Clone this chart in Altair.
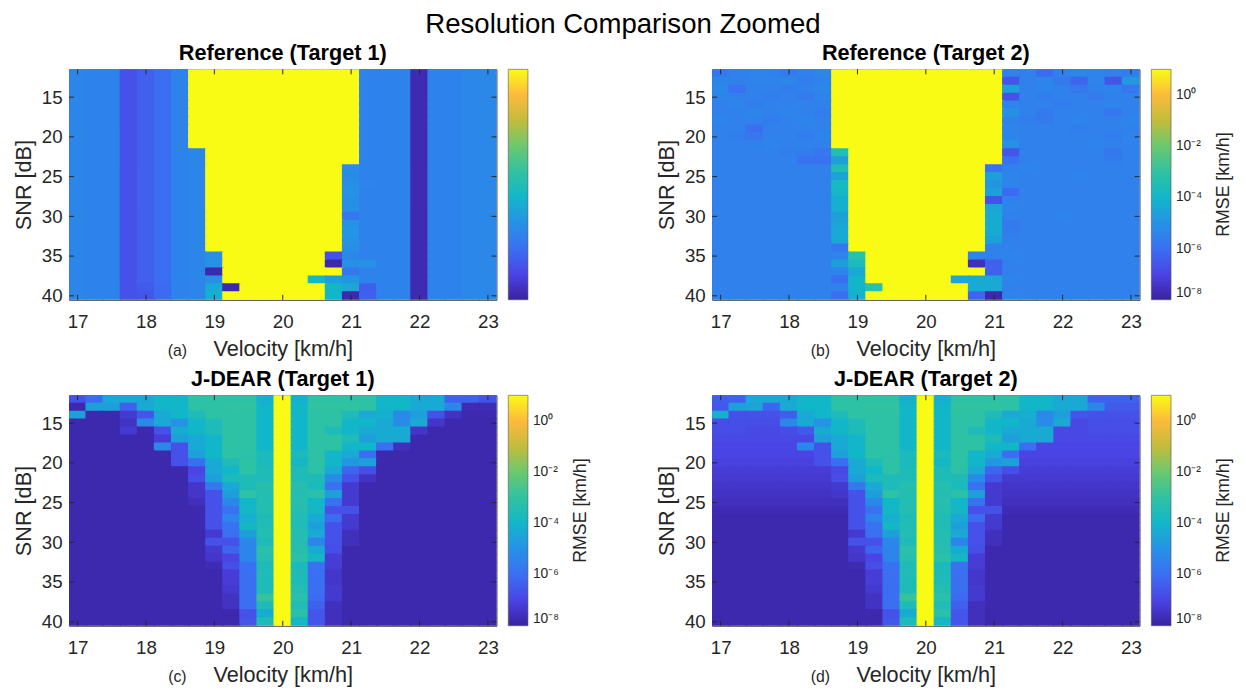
import altair as alt
import pandas as pd

# ---------------- data (log10 of RMSE [km/h]) ----------------
velocity = [17.0, 17.25, 17.5, 17.75, 18.0, 18.25, 18.5, 18.75, 19.0, 19.25, 19.5, 19.75,
            20.0, 20.25, 20.5, 20.75, 21.0, 21.25, 21.5, 21.75, 22.0, 22.25, 22.5, 22.75, 23.0]
snr = [12, 13, 14, 15, 16, 17, 18, 19, 20, 21, 22, 23, 24, 25, 26, 27, 28, 29, 30,
       31, 32, 33, 34, 35, 36, 37, 38, 39, 40]
x_ticks = [17, 18, 19, 20, 21, 22, 23]
y_ticks = [15, 20, 25, 30, 35, 40]
cbar_ticks = [-8, -6, -4, -2, 0]
cbar_labels = ["10⁻⁸", "10⁻⁶", "10⁻⁴", "10⁻²", "10⁰"]
cbar_title = "RMSE [km/h]"
panel_titles = ["Reference (Target 1)", "Reference (Target 2)", "J-DEAR (Target 1)", "J-DEAR (Target 2)"]
panel_tags = ["(a)", "(b)", "(c)", "(d)"]

ref_t1 = [
    [-5.35,-5.45,-5.45,-6.7,-6.35,-6.0,-5.45, 1.0,1.0,1.0,1.0,1.0, 1.0, 1.0,1.0,1.0,1.0,-5.45, -5.45,-5.45,-7.75,-5.45,-5.45,-5.3,-5.3],
    [-5.35,-5.45,-5.45,-6.7,-6.35,-6.0,-5.45, 1.0,1.0,1.0,1.0,1.0, 1.0, 1.0,1.0,1.0,1.0,-5.45, -5.45,-5.45,-7.75,-5.45,-5.45,-5.3,-5.3],
    [-5.35,-5.45,-5.45,-6.7,-6.35,-6.0,-5.45, 1.0,1.0,1.0,1.0,1.0, 1.0, 1.0,1.0,1.0,1.0,-5.45, -5.45,-5.45,-7.75,-5.45,-5.45,-5.3,-5.3],
    [-5.35,-5.45,-5.45,-6.7,-6.35,-6.0,-5.45, 1.0,1.0,1.0,1.0,1.0, 1.0, 1.0,1.0,1.0,1.0,-5.45, -5.45,-5.45,-7.75,-5.45,-5.45,-5.3,-5.3],
    [-5.35,-5.45,-5.45,-6.7,-6.35,-6.0,-5.45, 1.0,1.0,1.0,1.0,1.0, 1.0, 1.0,1.0,1.0,1.0,-5.45, -5.45,-5.45,-7.75,-5.45,-5.45,-5.3,-5.3],
    [-5.35,-5.45,-5.45,-6.7,-6.35,-6.0,-5.45, 1.0,1.0,1.0,1.0,1.0, 1.0, 1.0,1.0,1.0,1.0,-5.45, -5.45,-5.45,-7.75,-5.45,-5.45,-5.3,-5.3],
    [-5.35,-5.45,-5.45,-6.7,-6.35,-6.0,-5.45, 1.0,1.0,1.0,1.0,1.0, 1.0, 1.0,1.0,1.0,1.0,-5.45, -5.45,-5.45,-7.75,-5.45,-5.45,-5.3,-5.3],
    [-5.35,-5.45,-5.45,-6.7,-6.35,-6.0,-5.45, 1.0,1.0,1.0,1.0,1.0, 1.0, 1.0,1.0,1.0,1.0,-5.45, -5.45,-5.45,-7.75,-5.45,-5.45,-5.3,-5.3],
    [-5.35,-5.45,-5.45,-6.7,-6.35,-6.0,-5.45, 1.0,1.0,1.0,1.0,1.0, 1.0, 1.0,1.0,1.0,1.0,-5.45, -5.45,-5.45,-7.75,-5.45,-5.45,-5.3,-5.3],
    [-5.35,-5.45,-5.45,-6.7,-6.35,-6.0,-5.45, 1.0,1.0,1.0,1.0,1.0, 1.0, 1.0,1.0,1.0,1.0,-5.45, -5.45,-5.45,-7.75,-5.45,-5.45,-5.3,-5.3],
    [-5.35,-5.45,-5.45,-6.7,-6.35,-6.0,-5.45, -5.35,1.0,1.0,1.0,1.0, 1.0, 1.0,1.0,1.0,1.0,-5.45, -5.45,-5.45,-7.75,-5.45,-5.45,-5.3,-5.3],
    [-5.35,-5.45,-5.45,-6.7,-6.35,-6.0,-5.45, -5.35,1.0,1.0,1.0,1.0, 1.0, 1.0,1.0,1.0,1.0,-5.45, -5.45,-5.45,-7.75,-5.45,-5.45,-5.3,-5.3],
    [-5.35,-5.45,-5.45,-6.7,-6.35,-6.0,-5.45, -5.35,1.0,1.0,1.0,1.0, 1.0, 1.0,1.0,1.0,-5.15,-5.45, -5.45,-5.45,-7.75,-5.45,-5.45,-5.3,-5.3],
    [-5.35,-5.45,-5.45,-6.7,-6.35,-6.0,-5.45, -5.35,1.0,1.0,1.0,1.0, 1.0, 1.0,1.0,1.0,-5.2,-5.45, -5.45,-5.45,-7.75,-5.45,-5.45,-5.3,-5.3],
    [-5.35,-5.45,-5.45,-6.7,-6.35,-6.0,-5.45, -5.35,1.0,1.0,1.0,1.0, 1.0, 1.0,1.0,1.0,-5.1,-5.4, -5.45,-5.45,-7.75,-5.45,-5.45,-5.3,-5.3],
    [-5.35,-5.45,-5.45,-6.7,-6.35,-6.0,-5.45, -5.35,1.0,1.0,1.0,1.0, 1.0, 1.0,1.0,1.0,-5.0,-5.45, -5.45,-5.45,-7.75,-5.45,-5.45,-5.3,-5.3],
    [-5.35,-5.45,-5.45,-6.7,-6.35,-6.0,-5.45, -5.35,1.0,1.0,1.0,1.0, 1.0, 1.0,1.0,1.0,-5.05,-5.45, -5.45,-5.45,-7.75,-5.45,-5.45,-5.3,-5.3],
    [-5.35,-5.45,-5.45,-6.7,-6.35,-6.0,-5.45, -5.35,1.0,1.0,1.0,1.0, 1.0, 1.0,1.0,1.0,-5.1,-5.45, -5.45,-5.45,-7.75,-5.45,-5.45,-5.3,-5.3],
    [-5.35,-5.45,-5.45,-6.7,-6.35,-6.0,-5.45, -5.35,1.0,1.0,1.0,1.0, 1.0, 1.0,1.0,1.0,-5.8,-5.45, -5.45,-5.45,-7.75,-5.45,-5.45,-5.3,-5.3],
    [-5.35,-5.45,-5.45,-6.7,-6.35,-6.0,-5.45, -5.35,1.0,1.0,1.0,1.0, 1.0, 1.0,1.0,1.0,-5.0,-5.45, -5.45,-5.45,-7.75,-5.45,-5.45,-5.3,-5.3],
    [-5.35,-5.45,-5.45,-6.7,-6.35,-6.0,-5.45, -5.35,1.0,1.0,1.0,1.0, 1.0, 1.0,1.0,1.0,-4.95,-5.45, -5.45,-5.45,-7.75,-5.45,-5.45,-5.3,-5.3],
    [-5.35,-5.45,-5.45,-6.7,-6.35,-6.0,-5.45, -5.35,1.0,1.0,1.0,1.0, 1.0, 1.0,1.0,1.0,-5.0,-5.45, -5.45,-5.45,-7.75,-5.45,-5.45,-5.3,-5.3],
    [-5.35,-5.45,-5.45,-6.7,-6.35,-6.0,-5.45, -5.35,1.0,1.0,1.0,1.0, 1.0, 1.0,1.0,1.0,-5.1,-5.45, -5.45,-5.45,-7.75,-5.45,-5.45,-5.3,-5.3],
    [-5.35,-5.45,-5.45,-6.7,-6.35,-6.0,-5.45, -5.35,-5.1,1.0,1.0,1.0, 1.0, 1.0,1.0,-6.7,-5.3,-5.45, -5.45,-5.45,-7.75,-5.45,-5.45,-5.3,-5.3],
    [-5.35,-5.45,-5.45,-6.7,-6.35,-6.0,-5.45, -5.35,-5.0,1.0,1.0,1.0, 1.0, 1.0,1.0,-7.8,-5.1,-5.1, -5.45,-5.45,-7.75,-5.45,-5.45,-5.3,-5.3],
    [-5.35,-5.45,-5.45,-6.7,-6.35,-6.0,-5.45, -5.35,-7.8,1.0,1.0,1.0, 1.0, 1.0,1.0,1.0,-5.8,-5.45, -5.45,-5.45,-7.75,-5.45,-5.45,-5.3,-5.3],
    [-5.35,-5.45,-5.45,-6.7,-6.35,-6.0,-5.45, -5.35,-5.1,1.0,1.0,1.0, 1.0, 1.0,-3.9,-4.7,-4.9,-5.45, -5.45,-5.45,-7.75,-5.45,-5.45,-5.3,-5.3],
    [-5.35,-5.45,-5.45,-6.7,-6.5,-6.1,-5.45, -5.4,-4.4,-7.8,1.0,1.0, 1.0, 1.0,1.0,-4.0,-4.4,-6.4, -5.45,-5.45,-7.75,-5.45,-5.45,-5.3,-5.3],
    [-5.35,-5.45,-5.45,-6.7,-6.6,-6.1,-5.45, -5.4,-4.2,1.0,1.0,1.0, 1.0, 1.0,1.0,-4.0,-7.8,-6.3, -5.45,-5.45,-7.75,-5.45,-5.45,-5.3,-5.3],
]

ref_t2 = [
    [-5.8,-5.5,-5.4,-5.5,-5.7,-5.5,-5.3, 1.0,1.0,1.0,1.0,1.0, 1.0, 1.0,1.0,1.0,1.0,-5.5, -5.5,-6.1,-5.5,-5.3,-5.4,-5.5,-5.6],
    [-5.4,-5.5,-5.4,-5.4,-5.3,-5.6,-5.4, 1.0,1.0,1.0,1.0,1.0, 1.0, 1.0,1.0,1.0,1.0,-6.6, -5.5,-5.4,-5.7,-6.2,-5.4,-6.6,-4.8],
    [-5.3,-5.9,-5.5,-5.5,-5.6,-5.5,-5.3, 1.0,1.0,1.0,1.0,1.0, 1.0, 1.0,1.0,1.0,1.0,-4.6, -5.5,-5.4,-5.5,-5.8,-5.5,-5.4,-5.8],
    [-5.4,-5.5,-5.5,-5.6,-5.5,-5.7,-5.4, 1.0,1.0,1.0,1.0,1.0, 1.0, 1.0,1.0,1.0,1.0,-6.7, -5.5,-5.6,-5.5,-5.5,-5.7,-5.5,-5.5],
    [-5.5,-5.4,-5.6,-5.5,-5.5,-5.5,-5.5, 1.0,1.0,1.0,1.0,1.0, 1.0, 1.0,1.0,1.0,1.0,-5.4, -5.5,-5.5,-5.6,-5.5,-5.5,-5.4,-5.5],
    [-5.5,-5.5,-5.4,-5.5,-5.4,-5.5,-5.6, 1.0,1.0,1.0,1.0,1.0, 1.0, 1.0,1.0,1.0,1.0,-5.0, -5.5,-5.7,-5.5,-5.5,-5.5,-5.8,-5.5],
    [-5.4,-5.5,-5.5,-5.6,-5.5,-5.4,-5.5, 1.0,1.0,1.0,1.0,1.0, 1.0, 1.0,1.0,1.0,1.0,-5.5, -5.6,-5.7,-5.5,-5.4,-5.5,-5.5,-5.4],
    [-5.5,-5.5,-6.0,-5.5,-5.5,-5.5,-5.5, 1.0,1.0,1.0,1.0,1.0, 1.0, 1.0,1.0,1.0,1.0,-5.4, -5.5,-5.5,-5.5,-5.6,-5.5,-5.5,-5.5],
    [-5.5,-5.6,-5.8,-5.5,-5.5,-5.6,-5.4, 1.0,1.0,1.0,1.0,1.0, 1.0, 1.0,1.0,1.0,1.0,-5.4, -5.5,-5.5,-5.5,-5.5,-5.5,-5.6,-5.4],
    [-5.5,-5.5,-5.5,-5.4,-5.5,-5.5,-5.5, 1.0,1.0,1.0,1.0,1.0, 1.0, 1.0,1.0,1.0,1.0,-5.0, -5.5,-5.5,-5.5,-5.5,-5.4,-5.5,-5.5],
    [-5.5,-5.5,-5.5,-5.5,-5.6,-5.6,-5.8, -3.4,1.0,1.0,1.0,1.0, 1.0, 1.0,1.0,1.0,1.0,-6.6, -5.5,-5.5,-5.5,-5.5,-5.5,-5.8,-5.5],
    [-5.5,-5.5,-5.5,-5.5,-5.5,-5.9,-5.9, -4.6,1.0,1.0,1.0,1.0, 1.0, 1.0,1.0,1.0,1.0,-5.9, -5.5,-5.5,-5.5,-5.5,-5.5,-5.6,-5.5],
    [-5.5,-5.5,-5.5,-5.5,-5.5,-5.5,-5.5, -3.5,1.0,1.0,1.0,1.0, 1.0, 1.0,1.0,1.0,-5.9,-5.5, -5.4,-5.5,-5.5,-5.5,-5.5,-5.5,-5.5],
    [-5.5,-5.5,-5.5,-5.5,-5.5,-5.5,-5.5, -4.5,1.0,1.0,1.0,1.0, 1.0, 1.0,1.0,1.0,-4.6,-5.4, -5.5,-5.5,-5.5,-5.4,-5.5,-5.5,-5.5],
    [-5.5,-5.5,-5.5,-5.5,-5.5,-5.5,-5.5, -3.8,1.0,1.0,1.0,1.0, 1.0, 1.0,1.0,1.0,-4.9,-5.4, -5.5,-5.5,-5.5,-5.5,-5.5,-5.5,-5.5],
    [-5.5,-5.5,-5.5,-5.5,-5.5,-5.5,-5.5, -3.9,1.0,1.0,1.0,1.0, 1.0, 1.0,1.0,1.0,-4.6,-6.1, -5.5,-5.5,-5.5,-5.5,-5.5,-5.5,-5.5],
    [-5.5,-5.5,-5.5,-5.5,-5.5,-5.5,-5.5, -4.2,1.0,1.0,1.0,1.0, 1.0, 1.0,1.0,1.0,-6.7,-5.5, -5.5,-5.5,-5.5,-5.5,-5.5,-5.5,-5.5],
    [-5.5,-5.5,-5.5,-5.5,-5.5,-5.5,-5.5, -4.2,1.0,1.0,1.0,1.0, 1.0, 1.0,1.0,1.0,-4.5,-5.4, -5.5,-5.5,-5.5,-5.5,-5.5,-5.5,-5.5],
    [-5.5,-5.5,-5.5,-5.5,-5.5,-5.5,-5.5, -4.6,1.0,1.0,1.0,1.0, 1.0, 1.0,1.0,1.0,-4.3,-5.5, -5.5,-5.5,-5.4,-5.5,-5.5,-5.5,-5.5],
    [-5.5,-5.5,-5.5,-5.5,-5.5,-5.5,-5.5, -4.5,1.0,1.0,1.0,1.0, 1.0, 1.0,1.0,1.0,-4.3,-5.7, -5.5,-5.5,-5.5,-5.5,-5.5,-5.5,-5.5],
    [-5.5,-5.5,-5.5,-5.5,-5.5,-5.5,-5.5, -4.4,1.0,1.0,1.0,1.0, 1.0, 1.0,1.0,1.0,-4.3,-5.6, -5.5,-5.5,-5.5,-5.5,-5.5,-5.5,-5.5],
    [-5.5,-5.5,-5.5,-5.5,-5.5,-5.5,-5.5, -4.4,1.0,1.0,1.0,1.0, 1.0, 1.0,1.0,1.0,-4.6,-5.5, -5.5,-5.5,-5.5,-5.5,-5.5,-5.5,-5.5],
    [-5.5,-5.5,-5.5,-5.5,-5.5,-5.5,-5.5, -5.8,1.0,1.0,1.0,1.0, 1.0, 1.0,1.0,1.0,-5.5,-5.5, -5.5,-5.5,-5.5,-5.5,-5.5,-5.5,-5.5],
    [-5.5,-5.5,-5.5,-5.5,-5.5,-5.5,-5.5, -5.4,-3.2,1.0,1.0,1.0, 1.0, 1.0,1.0,-5.4,-5.5,-5.4, -5.5,-5.5,-5.5,-5.5,-5.5,-5.5,-5.5],
    [-5.5,-5.5,-5.5,-5.5,-5.5,-5.5,-5.5, -4.6,-3.7,1.0,1.0,1.0, 1.0, 1.0,1.0,-7.6,-6.3,-5.5, -5.5,-5.5,-5.5,-5.5,-5.5,-5.5,-5.5],
    [-5.5,-5.5,-5.5,-5.5,-5.5,-5.5,-5.5, -5.4,-4.4,1.0,1.0,1.0, 1.0, 1.0,1.0,1.0,-6.3,-5.5, -5.5,-5.5,-5.5,-5.5,-5.5,-5.5,-5.5],
    [-5.5,-5.5,-5.5,-5.5,-5.5,-5.5,-5.5, -6.0,-4.0,1.0,1.0,1.0, 1.0, 1.0,-4.4,-4.4,-4.4,-5.4, -5.5,-5.5,-5.5,-5.5,-5.5,-5.5,-5.5],
    [-5.5,-5.5,-5.5,-5.5,-5.5,-5.5,-5.5, -5.5,-4.0,-3.2,1.0,1.0, 1.0, 1.0,1.0,-4.3,-4.4,-5.5, -5.5,-5.5,-5.5,-5.5,-5.5,-5.5,-5.5],
    [-5.5,-5.5,-5.5,-5.5,-5.5,-5.5,-5.5, -6.0,-4.1,1.0,1.0,1.0, 1.0, 1.0,1.0,-6.2,-7.8,-5.4, -5.5,-5.5,-5.5,-5.5,-5.5,-5.5,-5.5],
]

jdear_t1 = [
    [-6.7,-6.1,-4.4,-4.4,-4.4,-4.0,-4.0, -3.1,-3.1,-3.1,-3.1,-4.2, 1.0, -4.2,-3.1,-3.1,-3.1,-3.1, -4.0,-4.0,-4.4,-4.4,-6.3,-6.3,-6.7],
    [-7.8,-4.6,-4.6,-6.3,-4.4,-4.0,-4.0, -3.1,-3.1,-3.0,-3.0,-4.0, 1.0, -4.0,-3.0,-3.0,-3.0,-3.1, -4.0,-4.0,-4.4,-4.4,-5.3,-7.7,-7.7],
    [-4.6,-7.8,-7.8,-7.3,-6.6,-4.4,-4.0, -3.6,-3.1,-3.1,-3.1,-4.0, 1.0, -4.0,-3.1,-3.1,-3.6,-4.4, -4.2,-5.3,-4.6,-6.7,-7.5,-7.8,-7.8],
    [-7.8,-7.8,-7.8,-7.5,-5.3,-4.4,-5.0, -4.0,-3.6,-3.1,-3.1,-4.0, 1.0, -4.0,-3.1,-3.1,-4.0,-4.0, -4.4,-5.2,-4.4,-7.4,-7.8,-7.8,-7.8],
    [-7.8,-7.8,-7.8,-7.3,-7.8,-6.7,-4.3, -4.0,-3.6,-3.1,-3.1,-4.0, 1.0, -4.0,-3.1,-3.6,-4.0,-4.4, -4.3,-4.3,-7.4,-7.8,-7.8,-7.8,-7.8],
    [-7.8,-7.8,-7.8,-7.8,-7.8,-7.2,-4.6, -4.4,-4.0,-3.1,-3.1,-4.0, 1.0, -4.0,-3.1,-3.1,-3.6,-4.6, -4.4,-4.4,-7.8,-7.8,-7.8,-7.8,-7.8],
    [-7.8,-7.8,-7.8,-7.8,-7.8,-5.3,-6.7, -4.4,-4.0,-3.1,-3.1,-4.0, 1.0, -4.0,-3.1,-3.1,-4.0,-4.0, -6.0,-7.6,-7.8,-7.8,-7.8,-7.8,-7.8],
    [-7.8,-7.8,-7.8,-7.8,-7.8,-7.8,-6.7, -4.6,-4.0,-3.1,-3.2,-3.7, 1.0, -3.7,-3.1,-4.0,-4.4,-6.0, -7.8,-7.8,-7.8,-7.8,-7.8,-7.8,-7.8],
    [-7.8,-7.8,-7.8,-7.8,-7.8,-7.8,-6.7, -6.0,-4.4,-3.6,-3.1,-3.7, 1.0, -3.9,-3.1,-4.0,-4.9,-4.6, -7.8,-7.8,-7.8,-7.8,-7.8,-7.8,-7.8],
    [-7.8,-7.8,-7.8,-7.8,-7.8,-7.8,-7.8, -7.0,-4.4,-4.0,-3.1,-3.6, 1.0, -3.6,-3.2,-4.4,-6.2,-6.8, -7.8,-7.8,-7.8,-7.8,-7.8,-7.8,-7.8],
    [-7.8,-7.8,-7.8,-7.8,-7.8,-7.8,-7.8, -6.8,-4.6,-3.7,-3.6,-3.6, 1.0, -3.6,-3.6,-5.2,-6.7,-7.5, -7.8,-7.8,-7.8,-7.8,-7.8,-7.8,-7.8],
    [-7.8,-7.8,-7.8,-7.8,-7.8,-7.8,-7.8, -7.4,-5.8,-4.4,-3.6,-3.3, 1.0, -3.3,-3.7,-5.9,-7.3,-7.8, -7.8,-7.8,-7.8,-7.8,-7.8,-7.8,-7.8],
    [-7.8,-7.8,-7.8,-7.8,-7.8,-7.8,-7.8, -7.4,-6.7,-4.6,-3.1,-3.4, 1.0, -3.4,-3.2,-4.6,-7.3,-7.8, -7.8,-7.8,-7.8,-7.8,-7.8,-7.8,-7.8],
    [-7.8,-7.8,-7.8,-7.8,-7.8,-7.8,-7.8, -7.6,-6.7,-5.3,-4.0,-3.4, 1.0, -3.3,-4.0,-5.9,-7.3,-7.8, -7.8,-7.8,-7.8,-7.8,-7.8,-7.8,-7.8],
    [-7.8,-7.8,-7.8,-7.8,-7.8,-7.8,-7.8, -7.8,-6.7,-5.9,-3.9,-3.4, 1.0, -3.4,-3.9,-6.7,-6.7,-7.8, -7.8,-7.8,-7.8,-7.8,-7.8,-7.8,-7.8],
    [-7.8,-7.8,-7.8,-7.8,-7.8,-7.8,-7.8, -7.8,-6.7,-5.4,-4.2,-3.6, 1.0, -3.5,-4.4,-6.1,-7.3,-7.8, -7.8,-7.8,-7.8,-7.8,-7.8,-7.8,-7.8],
    [-7.8,-7.8,-7.8,-7.8,-7.8,-7.8,-7.8, -7.8,-6.7,-5.9,-3.9,-3.5, 1.0, -3.5,-4.6,-6.7,-7.3,-7.8, -7.8,-7.8,-7.8,-7.8,-7.8,-7.8,-7.8],
    [-7.8,-7.8,-7.8,-7.8,-7.8,-7.8,-7.8, -7.8,-7.3,-6.0,-4.6,-3.4, 1.0, -3.4,-4.4,-6.7,-7.6,-7.8, -7.8,-7.8,-7.8,-7.8,-7.8,-7.8,-7.8],
    [-7.8,-7.8,-7.8,-7.8,-7.8,-7.8,-7.8, -7.8,-6.7,-6.7,-5.3,-3.6, 1.0, -3.4,-5.4,-6.7,-7.6,-7.8, -7.8,-7.8,-7.8,-7.8,-7.8,-7.8,-7.8],
    [-7.8,-7.8,-7.8,-7.8,-7.8,-7.8,-7.8, -7.8,-7.3,-6.2,-5.4,-3.2, 1.0, -3.3,-4.3,-6.8,-7.8,-7.8, -7.8,-7.8,-7.8,-7.8,-7.8,-7.8,-7.8],
    [-7.8,-7.8,-7.8,-7.8,-7.8,-7.8,-7.8, -7.8,-7.4,-7.0,-5.4,-3.3, 1.0, -3.2,-3.9,-7.2,-7.8,-7.8, -7.8,-7.8,-7.8,-7.8,-7.8,-7.8,-7.8],
    [-7.8,-7.8,-7.8,-7.8,-7.8,-7.8,-7.8, -7.8,-7.7,-6.8,-5.9,-3.6, 1.0, -3.7,-5.9,-7.2,-7.8,-7.8, -7.8,-7.8,-7.8,-7.8,-7.8,-7.8,-7.8],
    [-7.8,-7.8,-7.8,-7.8,-7.8,-7.8,-7.8, -7.8,-7.8,-7.2,-6.0,-3.5, 1.0, -3.6,-6.0,-7.4,-7.8,-7.8, -7.8,-7.8,-7.8,-7.8,-7.8,-7.8,-7.8],
    [-7.8,-7.8,-7.8,-7.8,-7.8,-7.8,-7.8, -7.8,-7.8,-7.2,-6.0,-3.6, 1.0, -3.6,-6.0,-7.4,-7.8,-7.8, -7.8,-7.8,-7.8,-7.8,-7.8,-7.8,-7.8],
    [-7.8,-7.8,-7.8,-7.8,-7.8,-7.8,-7.8, -7.8,-7.8,-7.3,-6.0,-3.6, 1.0, -3.4,-6.0,-7.3,-7.8,-7.8, -7.8,-7.8,-7.8,-7.8,-7.8,-7.8,-7.8],
    [-7.8,-7.8,-7.8,-7.8,-7.8,-7.8,-7.8, -7.8,-7.8,-7.5,-6.0,-2.9, 1.0, -3.2,-6.1,-7.3,-7.8,-7.8, -7.8,-7.8,-7.8,-7.8,-7.8,-7.8,-7.8],
    [-7.8,-7.8,-7.8,-7.8,-7.8,-7.8,-7.8, -7.8,-7.8,-7.5,-6.0,-3.6, 1.0, -3.5,-6.3,-7.6,-7.8,-7.8, -7.8,-7.8,-7.8,-7.8,-7.8,-7.8,-7.8],
    [-7.8,-7.8,-7.8,-7.8,-7.8,-7.8,-7.8, -7.8,-7.8,-7.8,-6.7,-4.3, 1.0, -3.2,-6.6,-7.6,-7.8,-7.8, -7.8,-7.8,-7.8,-7.8,-7.8,-7.8,-7.8],
    [-7.8,-7.8,-7.8,-7.8,-7.8,-7.8,-7.8, -7.8,-7.8,-7.8,-6.6,-3.6, 1.0, -3.9,-6.6,-7.6,-7.8,-7.8, -7.8,-7.8,-7.8,-7.8,-7.8,-7.8,-7.8],
]

jdear_t2 = [
    [-6.4,-6.3,-4.4,-4.4,-4.4,-4.0,-4.0, -3.1,-3.1,-3.1,-3.1,-4.2, 1.0, -4.2,-3.1,-3.1,-3.1,-3.1, -4.0,-4.0,-4.4,-4.4,-6.3,-6.3,-6.3],
    [-6.5,-4.6,-4.5,-6.2,-4.4,-4.0,-4.0, -3.1,-3.1,-3.0,-3.0,-4.0, 1.0, -4.0,-3.0,-3.0,-3.0,-3.1, -4.0,-4.0,-4.4,-4.4,-5.3,-6.5,-6.5],
    [-4.2,-6.7,-6.7,-6.7,-6.4,-4.4,-4.0, -3.6,-3.1,-3.1,-3.1,-4.0, 1.0, -4.0,-3.1,-3.1,-3.6,-4.4, -4.2,-5.3,-4.6,-6.6,-6.7,-6.7,-6.7],
    [-6.8,-6.8,-6.8,-6.8,-5.3,-4.4,-5.0, -4.0,-3.6,-3.1,-3.1,-4.0, 1.0, -4.0,-3.1,-3.1,-4.0,-4.0, -4.4,-5.2,-4.4,-6.9,-6.8,-6.8,-6.8],
    [-6.8,-6.8,-6.9,-6.9,-6.8,-6.5,-4.3, -4.0,-3.6,-3.1,-3.1,-4.0, 1.0, -4.0,-3.1,-3.6,-4.0,-4.4, -4.3,-4.3,-6.9,-6.9,-6.8,-6.8,-6.8],
    [-6.9,-6.9,-6.9,-6.9,-6.9,-6.9,-4.6, -4.4,-4.0,-3.1,-3.1,-4.0, 1.0, -4.0,-3.1,-3.1,-3.6,-4.6, -4.4,-4.4,-6.9,-6.9,-6.9,-6.9,-6.9],
    [-7.0,-7.0,-7.0,-7.0,-7.0,-5.3,-6.7, -4.4,-4.0,-3.1,-3.1,-4.0, 1.0, -4.0,-3.1,-3.1,-4.0,-4.0, -6.0,-7.0,-7.0,-7.0,-7.0,-7.0,-7.0],
    [-7.0,-7.0,-7.0,-7.0,-7.0,-7.0,-6.7, -4.6,-4.0,-3.1,-3.2,-3.7, 1.0, -3.7,-3.1,-4.0,-4.4,-6.0, -7.0,-7.0,-7.0,-7.0,-7.0,-7.0,-7.0],
    [-7.1,-7.1,-7.1,-7.1,-7.1,-7.1,-6.7, -6.0,-4.4,-3.6,-3.1,-3.7, 1.0, -3.9,-3.1,-4.0,-4.9,-4.6, -7.1,-7.1,-7.1,-7.1,-7.1,-7.1,-7.1],
    [-7.2,-7.2,-7.2,-7.2,-7.2,-7.2,-7.2, -6.9,-4.4,-4.0,-3.1,-3.6, 1.0, -3.6,-3.2,-4.4,-6.2,-6.8, -7.2,-7.2,-7.2,-7.2,-7.2,-7.2,-7.2],
    [-7.3,-7.3,-7.3,-7.3,-7.3,-7.3,-7.3, -6.8,-4.6,-3.7,-3.6,-3.6, 1.0, -3.6,-3.6,-5.2,-6.7,-7.3, -7.3,-7.3,-7.3,-7.3,-7.3,-7.3,-7.3],
    [-7.4,-7.4,-7.4,-7.4,-7.4,-7.4,-7.4, -7.3,-5.8,-4.4,-3.6,-3.3, 1.0, -3.3,-3.7,-5.9,-7.3,-7.4, -7.4,-7.4,-7.4,-7.4,-7.4,-7.4,-7.4],
    [-7.5,-7.5,-7.5,-7.5,-7.5,-7.5,-7.5, -7.4,-6.7,-4.6,-3.1,-3.4, 1.0, -3.4,-3.2,-4.6,-7.3,-7.5, -7.5,-7.5,-7.5,-7.5,-7.5,-7.5,-7.5],
    [-7.6,-7.6,-7.6,-7.6,-7.6,-7.6,-7.6, -7.6,-6.7,-5.3,-4.0,-3.4, 1.0, -3.3,-4.0,-5.9,-7.3,-7.6, -7.6,-7.6,-7.6,-7.6,-7.6,-7.6,-7.6],
    [-7.7,-7.7,-7.7,-7.7,-7.7,-7.7,-7.7, -7.7,-6.7,-5.9,-3.9,-3.4, 1.0, -3.4,-3.9,-6.7,-6.7,-7.7, -7.7,-7.7,-7.7,-7.7,-7.7,-7.7,-7.7],
    [-7.8,-7.8,-7.8,-7.8,-7.8,-7.8,-7.8, -7.8,-6.7,-5.4,-4.2,-3.6, 1.0, -3.5,-4.4,-6.1,-7.3,-7.8, -7.8,-7.8,-7.8,-7.8,-7.8,-7.8,-7.8],
    [-7.8,-7.8,-7.8,-7.8,-7.8,-7.8,-7.8, -7.8,-6.7,-5.9,-3.9,-3.5, 1.0, -3.5,-4.6,-6.7,-7.3,-7.8, -7.8,-7.8,-7.8,-7.8,-7.8,-7.8,-7.8],
    [-7.8,-7.8,-7.8,-7.8,-7.8,-7.8,-7.8, -7.8,-7.3,-6.0,-4.6,-3.4, 1.0, -3.4,-4.4,-6.7,-7.6,-7.8, -7.8,-7.8,-7.8,-7.8,-7.8,-7.8,-7.8],
    [-7.8,-7.8,-7.8,-7.8,-7.8,-7.8,-7.8, -7.8,-6.7,-6.7,-5.3,-3.6, 1.0, -3.4,-5.4,-6.7,-7.6,-7.8, -7.8,-7.8,-7.8,-7.8,-7.8,-7.8,-7.8],
    [-7.8,-7.8,-7.8,-7.8,-7.8,-7.8,-7.8, -7.8,-7.3,-6.2,-5.4,-3.2, 1.0, -3.3,-4.3,-6.8,-7.8,-7.8, -7.8,-7.8,-7.8,-7.8,-7.8,-7.8,-7.8],
    [-7.8,-7.8,-7.8,-7.8,-7.8,-7.8,-7.8, -7.8,-7.4,-7.0,-5.4,-3.3, 1.0, -3.2,-3.9,-7.2,-7.8,-7.8, -7.8,-7.8,-7.8,-7.8,-7.8,-7.8,-7.8],
    [-7.8,-7.8,-7.8,-7.8,-7.8,-7.8,-7.8, -7.8,-7.7,-6.8,-5.9,-3.6, 1.0, -3.7,-5.9,-7.2,-7.8,-7.8, -7.8,-7.8,-7.8,-7.8,-7.8,-7.8,-7.8],
    [-7.8,-7.8,-7.8,-7.8,-7.8,-7.8,-7.8, -7.8,-7.8,-7.2,-6.0,-3.5, 1.0, -3.6,-6.0,-7.4,-7.8,-7.8, -7.8,-7.8,-7.8,-7.8,-7.8,-7.8,-7.8],
    [-7.8,-7.8,-7.8,-7.8,-7.8,-7.8,-7.8, -7.8,-7.8,-7.2,-6.0,-3.6, 1.0, -3.6,-6.0,-7.4,-7.8,-7.8, -7.8,-7.8,-7.8,-7.8,-7.8,-7.8,-7.8],
    [-7.8,-7.8,-7.8,-7.8,-7.8,-7.8,-7.8, -7.8,-7.8,-7.3,-6.0,-3.6, 1.0, -3.4,-6.0,-7.3,-7.8,-7.8, -7.8,-7.8,-7.8,-7.8,-7.8,-7.8,-7.8],
    [-7.8,-7.8,-7.8,-7.8,-7.8,-7.8,-7.8, -7.8,-7.8,-7.5,-6.0,-2.9, 1.0, -3.2,-6.1,-7.3,-7.8,-7.8, -7.8,-7.8,-7.8,-7.8,-7.8,-7.8,-7.8],
    [-7.8,-7.8,-7.8,-7.8,-7.8,-7.8,-7.8, -7.8,-7.8,-7.5,-6.0,-3.6, 1.0, -3.5,-6.3,-7.6,-7.8,-7.8, -7.8,-7.8,-7.8,-7.8,-7.8,-7.8,-7.8],
    [-7.8,-7.8,-7.8,-7.8,-7.8,-7.8,-7.8, -7.8,-7.8,-7.8,-6.7,-4.3, 1.0, -3.2,-6.6,-7.6,-7.8,-7.8, -7.8,-7.8,-7.8,-7.8,-7.8,-7.8,-7.8],
    [-7.8,-7.8,-7.8,-7.8,-7.8,-7.8,-7.8, -7.8,-7.8,-7.8,-6.6,-3.6, 1.0, -3.9,-6.6,-7.6,-7.8,-7.8, -7.8,-7.8,-7.8,-7.8,-7.8,-7.8,-7.8],
]

# colour map (parula-like), stops in log10 units
cmap_stops = [-8, -7, -6, -5, -4, -3, -2, -1, 0, 1]
cmap_colors = ["#3a22a0", "#4a44e4", "#3a6ff2", "#2592e5", "#12b6c9",
               "#30c2a1", "#6bc86f", "#c3bc3b", "#fdba3c", "#f9fb15"]

FONT = "Liberation Sans"
W, H = 434, 234
INK = "#262626"
HALF_DV = 0.135   # half cell width (slight overlap hides seams)
HALF_DS = 0.57    # half cell height

label_expr = ""
for t, l in zip(cbar_ticks, cbar_labels):
    label_expr += f"datum.value == {t} ? '{l}' : "
label_expr += "''"

x_axis = alt.Axis(values=x_ticks, title="Velocity [km/h]", labelPadding=13,
                  titlePadding=8, format="d")
y_axis = alt.Axis(values=y_ticks, title="SNR [dB]", labelPadding=7,
                  titlePadding=6, format="d")


def panel(mat, title, tag, show_cbar_text):
    recs = []
    for i, s in enumerate(snr):
        for j, v in enumerate(velocity):
            recs.append({"v": v, "s": s, "val": mat[i][j]})
    df = pd.DataFrame(recs)
    xs = alt.Scale(domain=[16.875, 23.125], nice=False, zero=False)
    ys = alt.Scale(domain=[11.5, 40.5], nice=False, zero=False, reverse=True)
    cs = alt.Scale(domain=cmap_stops, range=cmap_colors, clamp=True, interpolate="rgb")
    op = 1 if show_cbar_text else 0
    heat = alt.Chart(df).transform_calculate(
        x0=f"datum.v - {HALF_DV}", x1=f"datum.v + {HALF_DV}",
        y0=f"datum.s - {HALF_DS}", y1=f"datum.s + {HALF_DS}",
    ).mark_rect(clip=True).encode(
        x=alt.X("x0:Q", scale=xs, axis=x_axis, title="Velocity [km/h]"),
        x2="x1:Q",
        y=alt.Y("y0:Q", scale=ys, axis=y_axis, title="SNR [dB]"),
        y2="y1:Q",
        color=alt.Color("val:Q", scale=cs, legend=alt.Legend(
            type="gradient", title=None, orient="right", direction="vertical",
            gradientLength=H, gradientThickness=20, offset=12,
            values=cbar_ticks, labelExpr=label_expr,
            labelFont=FONT, labelFontSize=14, labelColor=INK, labelOpacity=op,
            labelOffset=5,
            gradientStrokeColor="#555555", gradientStrokeWidth=0.6)),
    )
    xt_df = pd.DataFrame({"t": x_ticks})
    yt_df = pd.DataFrame({"t": y_ticks})
    tk = dict(color=INK, strokeWidth=1)
    t1 = alt.Chart(xt_df).mark_rule(**tk).encode(
        x=alt.X("t:Q", scale=xs, axis=x_axis, title="Velocity [km/h]"),
        y=alt.value(H), y2=alt.value(H - 5))
    t2 = alt.Chart(xt_df).mark_rule(**tk).encode(
        x=alt.X("t:Q", scale=xs, axis=x_axis, title="Velocity [km/h]"),
        y=alt.value(0), y2=alt.value(5))
    t3 = alt.Chart(yt_df).mark_rule(**tk).encode(
        y=alt.Y("t:Q", scale=ys, axis=y_axis, title="SNR [dB]"),
        x=alt.value(0), x2=alt.value(5))
    t4 = alt.Chart(yt_df).mark_rule(**tk).encode(
        y=alt.Y("t:Q", scale=ys, axis=y_axis, title="SNR [dB]"),
        x=alt.value(W), x2=alt.value(W - 5))
    tag_mark = alt.Chart(pd.DataFrame({"t": [tag]})).mark_text(
        font=FONT, fontSize=16, color=INK, align="center", baseline="alphabetic"
    ).encode(text="t:N", x=alt.value(110), y=alt.value(291))
    cb_title = alt.Chart(pd.DataFrame({"t": [cbar_title]})).mark_text(
        font=FONT, fontSize=18, color=INK, align="center", baseline="middle",
        angle=270, opacity=op
    ).encode(text="t:N", x=alt.value(W + 86), y=alt.value(H / 2))
    return alt.layer(heat, t1, t2, t3, t4, tag_mark, cb_title).properties(
        width=W, height=H,
        title=alt.TitleParams(title, font=FONT, fontSize=22, fontWeight="bold",
                              color="#000000", offset=4, anchor="middle"),
    )


pa = panel(ref_t1, panel_titles[0], panel_tags[0], False)
pb = panel(ref_t2, panel_titles[1], panel_tags[1], True)
pc = panel(jdear_t1, panel_titles[2], panel_tags[2], True)
pd_ = panel(jdear_t2, panel_titles[3], panel_tags[3], True)

top = alt.hconcat(pa, pb, spacing=65).resolve_scale(color="independent")
bottom = alt.hconcat(pc, pd_, spacing=65).resolve_scale(color="independent")

chart = alt.vconcat(top, bottom, spacing=7).resolve_scale(
    color="independent"
).properties(
    title=alt.TitleParams("Resolution Comparison Zoomed", font=FONT, fontSize=28,
                          fontWeight="normal", color="#000000", anchor="middle", offset=3),
    padding={"left": 4, "top": -2, "right": 4, "bottom": 2},
).configure_view(
    stroke="#3a3a3a", strokeWidth=1
).configure_axis(
    labelFont=FONT, titleFont=FONT, labelFontSize=19, titleFontSize=22,
    titleFontWeight="normal", labelColor=INK, titleColor=INK,
    domain=False, ticks=False, tickSize=0, grid=False,
)

chart.save("out.html", embed_options={"renderer": "svg", "actions": False})
